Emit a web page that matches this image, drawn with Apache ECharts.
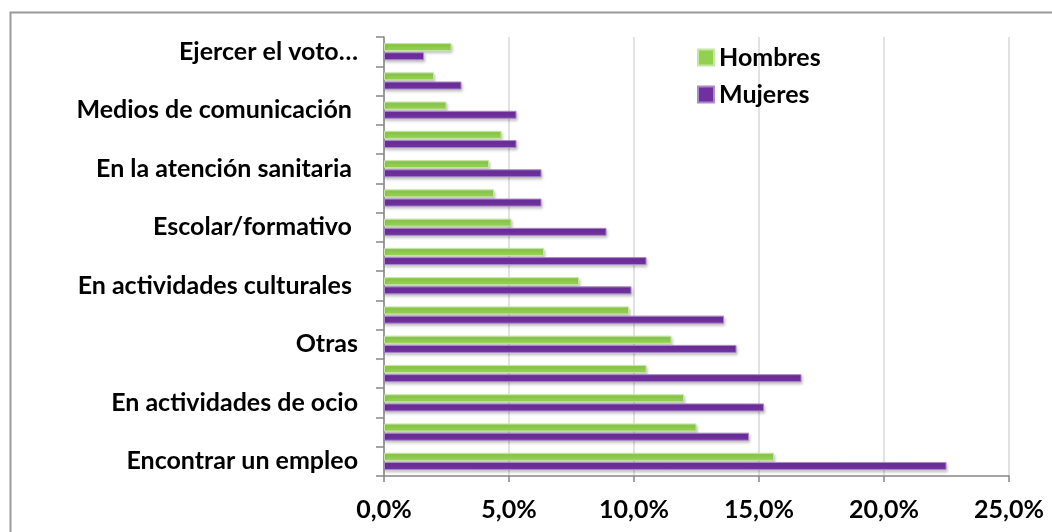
<!DOCTYPE html>
<html>
<head>
<meta charset="utf-8">
<script src="https://cdn.jsdelivr.net/npm/echarts@6/dist/echarts.min.js"></script>
<style>
html,body{margin:0;padding:0;background:#fff;}
#c{width:1052px;height:532px;}
</style>
</head>
<body>
<div id="c"></div>
<script>
// Categories bottom -> top (only every other one is labelled in the original)
const categories = [
  "Encontrar un empleo", "", "En actividades de ocio", "", "Otras", "",
  "En actividades culturales ", "", "Escolar/formativo ", "",
  "En la atención sanitaria ", "", "Medios de comunicación ", "", "Ejercer el voto…"
];
const hombres = [15.6, 12.5, 12.0, 10.5, 11.5, 9.8, 7.8, 6.4, 5.1, 4.4, 4.2, 4.7, 2.5, 2.0, 2.7];
const mujeres = [22.5, 14.6, 15.2, 16.7, 14.1, 13.6, 9.9, 10.5, 8.9, 6.3, 6.3, 5.3, 5.3, 3.1, 1.6];
const seriesNames = ["Hombres", "Mujeres"];
const xTicks = [0, 5, 10, 15, 20, 25];

const FONT = "Lato, 'Liberation Sans', sans-serif";
const chart = echarts.init(document.getElementById('c'), null, {renderer: 'canvas'});
const shadow = {shadowColor: 'rgba(0,0,0,0.22)', shadowBlur: 3, shadowOffsetX: 1, shadowOffsetY: 2};
chart.setOption({
  animation: false,
  backgroundColor: '#ffffff',
  graphic: [{
    type: 'rect', left: 8, top: 10, z: -10,
    shape: {width: 1100, height: 600},
    style: {fill: 'none', stroke: '#9a9a9a', lineWidth: 2}
  }],
  legend: {
    orient: 'vertical', left: 692, top: 40,
    itemWidth: 16, itemHeight: 16, itemGap: 12,
    icon: 'rect',
    textStyle: {fontFamily: FONT, fontWeight: 'bold', fontSize: 25, color: '#000'},
    data: seriesNames
  },
  grid: {left: 384, right: 43, top: 37, bottom: 56, containLabel: false},
  xAxis: {
    type: 'value', min: xTicks[0], max: xTicks[xTicks.length - 1], interval: 5,
    axisLine: {show: true, lineStyle: {color: '#868686', width: 1.5}},
    axisTick: {show: true, length: 6, lineStyle: {color: '#868686', width: 1.5}},
    splitLine: {show: true, lineStyle: {color: '#d9d9d9', width: 1.5}},
    axisLabel: {
      margin: 21, fontFamily: FONT, fontWeight: 'bold', fontSize: 25, color: '#000',
      formatter: v => v.toFixed(1).replace('.', ',') + '%'
    }
  },
  yAxis: {
    type: 'category', data: categories,
    axisLine: {show: true, lineStyle: {color: '#868686', width: 1.5}},
    axisTick: {show: true, length: 8, alignWithLabel: false, interval: 0, lineStyle: {color: '#868686', width: 1.5}},
    axisLabel: {interval: 0, margin: 26, fontFamily: FONT, fontWeight: 'bold', fontSize: 25, color: '#000'},
    splitLine: {show: false}
  },
  series: [
    {
      name: seriesNames[0], type: 'bar', data: hombres, barWidth: 8, barGap: '15%',
      itemStyle: Object.assign({color: '#92D050', borderColor: '#c6e6a2', borderWidth: 1}, shadow)
    },
    {
      name: seriesNames[1], type: 'bar', data: mujeres, barWidth: 8, barGap: '15%',
      itemStyle: Object.assign({color: '#7030A0', borderColor: '#a989c6', borderWidth: 1}, shadow)
    }
  ]
});
</script>
</body>
</html>
